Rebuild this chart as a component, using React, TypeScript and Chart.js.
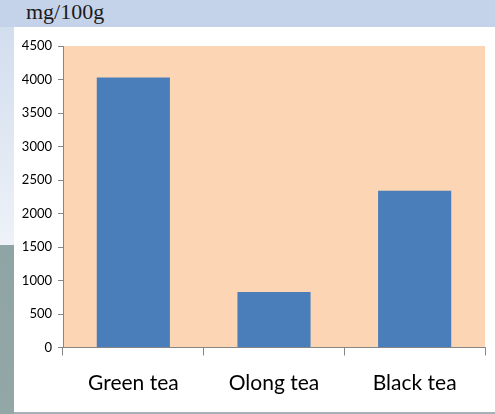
import React, { useEffect, useRef } from "react";
import { Chart, registerables } from "chart.js";

Chart.register(...registerables);

// Caffeine-related content per tea type (mg/100g)
const categories = ["Green tea", "Olong tea", "Black tea"];
const values = [4030, 830, 2340];
const yTicks = [0, 500, 1000, 1500, 2000, 2500, 3000, 3500, 4000, 4500];

const plotBackground = {
  id: "plotBackground",
  beforeDraw(chart: any) {
    const { ctx, chartArea } = chart;
    if (!chartArea) return;
    ctx.save();
    ctx.fillStyle = "#FCD5B5";
    ctx.fillRect(
      chartArea.left,
      chartArea.top,
      chartArea.right - chartArea.left,
      chartArea.bottom - chartArea.top
    );
    ctx.restore();
  },
};

export default function App() {
  const canvasRef = useRef<HTMLCanvasElement | null>(null);

  useEffect(() => {
    if (!canvasRef.current) return;
    const chart = new Chart(canvasRef.current, {
      type: "bar",
      data: {
        labels: categories,
        datasets: [
          {
            data: values,
            backgroundColor: "#4A7EBB",
            borderWidth: 0,
            barPercentage: 1,
            categoryPercentage: 0.52,
          },
        ],
      },
      options: {
        responsive: false,
        animation: false,
        layout: { padding: { top: 19, right: 10, left: 0, bottom: 0 } },
        plugins: {
          legend: { display: false },
          tooltip: { enabled: false },
        },
        scales: {
          x: {
            grid: {
              offset: true,
              drawOnChartArea: false,
              tickLength: 8,
              color: "#868686",
            },
            border: { color: "#868686" },
            ticks: {
              color: "#000",
              font: { family: "Lato", size: 21 },
              padding: 15,
              maxRotation: 0,
            },
            afterFit(scale: any) {
              scale.height = 64.5;
            },
          },
          y: {
            min: 0,
            max: 4500,
            afterBuildTicks(scale: any) {
              scale.ticks = yTicks.map((v) => ({ value: v }));
            },
            grid: {
              drawOnChartArea: false,
              tickLength: 5,
              color: "#868686",
            },
            border: { color: "#868686" },
            ticks: {
              color: "#000",
              font: { family: "Lato", size: 13 },
              padding: 6,
              callback: (v: any) => String(v),
            },
            afterFit(scale: any) {
              scale.width = 49;
            },
          },
        },
      },
      plugins: [plotBackground],
    });
    return () => chart.destroy();
  }, []);

  return (
    <div
      style={{
        position: "absolute",
        left: 0,
        top: 0,
        width: 495,
        height: 414,
        overflow: "hidden",
        background: "#FFFFFF",
      }}
    >
      <div
        style={{
          position: "absolute",
          left: 0,
          top: 0,
          width: 495,
          height: 27,
          background: "#C5D3EA",
        }}
      />
      <div
        style={{
          position: "absolute",
          left: 0,
          top: 27,
          width: 14,
          height: 218,
          background: "linear-gradient(#D2DDEE, #EEF2F8)",
        }}
      />
      <div
        style={{
          position: "absolute",
          left: 0,
          top: 245,
          width: 14,
          height: 169,
          background: "linear-gradient(#8FA4A4, #93A7A7)",
        }}
      />
      <div
        style={{
          position: "absolute",
          left: 14,
          top: 412,
          width: 481,
          height: 2,
          background: "#A8B0B4",
        }}
      />
      <div
        style={{
          position: "absolute",
          left: 26,
          top: 0,
          fontFamily: "'Liberation Serif', serif",
          fontSize: 22,
          lineHeight: "24px",
          color: "#1a1a1a",
        }}
      >
        mg/100g
      </div>
      <canvas
        ref={canvasRef}
        width={481}
        height={385}
        style={{ position: "absolute", left: 14, top: 27, width: 481, height: 385 }}
      />
    </div>
  );
}
